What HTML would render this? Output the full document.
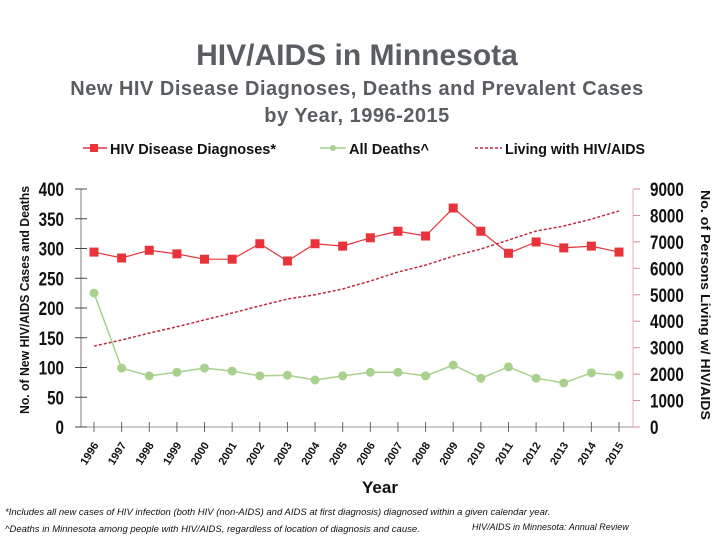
<!DOCTYPE html>
<html><head><meta charset="utf-8"><style>
body{margin:0;background:#fff;}
svg{display:block;font-family:"Liberation Sans",sans-serif;}
</style></head><body>
<svg id="c" width="720" height="540">
<text x="357" y="65" text-anchor="middle" font-size="30" font-weight="bold" fill="#5a5e63">HIV/AIDS in Minnesota</text>
<text x="357" y="95" text-anchor="middle" font-size="20" font-weight="bold" fill="#5a5e63" letter-spacing="0.5">New HIV Disease Diagnoses, Deaths and Prevalent Cases</text>
<text x="357" y="122" text-anchor="middle" font-size="20" font-weight="bold" fill="#5a5e63" letter-spacing="0.5">by Year, 1996-2015</text>
<g font-size="15" font-weight="bold" fill="#111">
<g><line x1="83" y1="148" x2="107" y2="148" stroke="#e8333b" stroke-width="1.5"/><rect x="90" y="144" width="8" height="8" fill="#e8333b"/><text x="110" y="154" textLength="166" lengthAdjust="spacingAndGlyphs">HIV Disease Diagnoses*</text></g>
<g><line x1="320" y1="148" x2="346" y2="148" stroke="#a9d18e" stroke-width="1.5"/><circle cx="333" cy="148" r="3" fill="#a9d18e"/><text x="349" y="154" textLength="80" lengthAdjust="spacingAndGlyphs">All Deaths^</text></g>
<g><line x1="475" y1="148" x2="502" y2="148" stroke="#c0283a" stroke-width="1.5" stroke-dasharray="3,2"/><text x="505" y="154" textLength="140" lengthAdjust="spacingAndGlyphs">Living with HIV/AIDS</text></g>
</g>
<text transform="translate(29,300) rotate(-90)" text-anchor="middle" font-size="13" font-weight="bold" fill="#111" textLength="228" lengthAdjust="spacingAndGlyphs">No. of New HIV/AIDS Cases and Deaths</text>
<text transform="translate(701,305) rotate(90)" text-anchor="middle" font-size="13" font-weight="bold" fill="#111" textLength="230" lengthAdjust="spacingAndGlyphs">No. of Persons Living w/ HIV/AIDS</text>
<text x="380" y="493" text-anchor="middle" font-size="17" font-weight="bold" fill="#111">Year</text>
<text x="5" y="515" font-size="9.5" font-style="italic" fill="#111">*Includes all new cases of HIV infection (both HIV (non-AIDS) and AIDS at first diagnosis) diagnosed within a given calendar year.</text>
<text x="5" y="532" font-size="9.5" font-style="italic" fill="#111">^Deaths in Minnesota among people with HIV/AIDS, regardless of location of diagnosis and cause.</text>
<text x="472" y="530" font-size="9" font-style="italic" fill="#111">HIV/AIDS in Minnesota: Annual Review</text>
<g id="plot"></g>
</svg>
<script>
const years=[1996,1997,1998,1999,2000,2001,2002,2003,2004,2005,2006,2007,2008,2009,2010,2011,2012,2013,2014,2015];
const diagnoses=[294,284,297,291,282,282,308,279,308,304,318,329,321,368,329,292,311,301,304,294];
const deaths=[225,99,86,92,99,94,86,87,79,86,92,92,86,104,82,101,82,74,91,87];
const living=[3060,3290,3550,3790,4050,4310,4580,4840,5000,5220,5520,5860,6120,6460,6730,7070,7410,7600,7860,8170];
const leftTicks=[0,50,100,150,200,250,300,350,400];
const rightTicks=[0,1000,2000,3000,4000,5000,6000,7000,8000,9000];
const NS='http://www.w3.org/2000/svg';
const g=document.getElementById('plot');
const y0=427,y1=189;
const xS=i=>94+i*(619-94)/(years.length-1);
const yL=v=>y0-(v/400)*(y0-y1);
const yR=v=>y0-(v/9000)*(y0-y1);
function mk(t,a){const e=document.createElementNS(NS,t);for(const k in a)e.setAttribute(k,a[k]);g.appendChild(e);return e;}
let e=mk('line',{x1:81,y1:y1,x2:81,y2:y0,stroke:'#aaa','stroke-width':1.5});


e=mk('line',{x1:633,y1:y1,x2:633,y2:y0,stroke:'#e6b3b8','stroke-width':1});


e=mk('line',{x1:75,y1:y0,x2:640,y2:y0,stroke:'#999','stroke-width':1});


leftTicks.forEach(v=>{
 let t=mk('line',{x1:75,y1:yL(v),x2:87,y2:yL(v),stroke:'#444','stroke-width':1});
 
 
 let l=mk('text',{transform:`translate(64,${yL(v)+7}) scale(0.8,1)`,'text-anchor':'end','font-size':19,'font-weight':'bold',fill:'#111'});
 l.textContent=v;
 
 
});
rightTicks.forEach(v=>{
 let t=mk('line',{x1:633,y1:yR(v),x2:640,y2:yR(v),stroke:'#d88a93','stroke-width':1});
 
 
 let l=mk('text',{transform:`translate(650,${yR(v)+7}) scale(0.8,1)`,'font-size':19,'font-weight':'bold',fill:'#111'});
 l.textContent=v;
 
 
});
years.forEach((yr,i)=>{
 let t=mk('line',{x1:xS(i),y1:y0-5,x2:xS(i),y2:y0+5,stroke:'#666','stroke-width':1});
 
 
 let l=mk('text',{transform:`translate(${xS(i)+5},${y0+18}) rotate(-58)`,'text-anchor':'end','font-size':11,'font-weight':'bold',fill:'#111'});
 l.textContent=yr;
 
 
});
e=mk('polyline',{points:living.map((v,i)=>xS(i)+','+yR(v)).join(' '),fill:'none',stroke:'#c0283a','stroke-width':1.5,'stroke-dasharray':'3,2'});


e=mk('polyline',{points:deaths.map((v,i)=>xS(i)+','+yL(v)).join(' '),fill:'none',stroke:'#a9d18e','stroke-width':1.5});


deaths.forEach((v,i)=>{
 let p=mk('circle',{cx:xS(i),cy:yL(v),r:4.5,fill:'#a9d18e'});
 
 
});
e=mk('polyline',{points:diagnoses.map((v,i)=>xS(i)+','+yL(v)).join(' '),fill:'none',stroke:'#e8333b','stroke-width':1.2});


diagnoses.forEach((v,i)=>{
 let p=mk('rect',{x:xS(i)-4.5,y:yL(v)-4.5,width:9,height:9,fill:'#e8333b'});
 
 
});
</script>
</body></html>
